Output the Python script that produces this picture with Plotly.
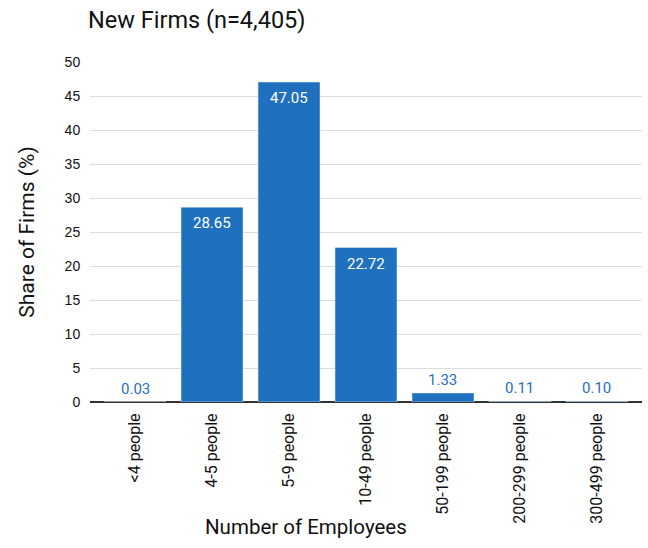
import plotly.graph_objects as go

categories = ["<4 people", "4-5 people", "5-9 people", "10-49 people",
              "50-199 people", "200-299 people", "300-499 people"]
shares = [0.03, 28.65, 47.05, 22.72, 1.33, 0.11, 0.10]

BLUE = "#1f70bf"
FONT = "Roboto, sans-serif"

inside = [v > 10 for v in shares]
fig = go.Figure(go.Bar(
    x=categories, y=shares,
    marker_color=BLUE,
    hoverinfo="x+y",
))

for c, v, ins in zip(categories, shares, inside):
    fig.add_annotation(
        x=c, y=v, text=f"{v:.2f}", showarrow=False,
        yanchor="middle", yshift=-16 if ins else 13,
        font=dict(family=FONT, size=15, color="white" if ins else BLUE),
    )

fig.add_annotation(
    x=(306 - 90) / 552, xref="paper", y=-(527 - 402) / 340, yref="paper",
    text="Number of Employees", showarrow=False,
    xanchor="center", yanchor="middle",
    font=dict(family=FONT, size=20.5, color="#111"),
)

fig.update_layout(
    width=648, height=548,
    margin=dict(l=90, r=6, t=62, b=146),
    plot_bgcolor="white", paper_bgcolor="white",
    bargap=0.195,
    showlegend=False,
    title=dict(text="New Firms (n=4,405)", x=88/648, xanchor="left",
               y=1 - 20/548, yanchor="middle",
               font=dict(family=FONT, size=23.5, color="#111")),
)
fig.update_yaxes(
    range=[0, 50], dtick=5, showgrid=True, gridcolor="#dddddd", gridwidth=1.3,
    ticks="outside", ticklen=6, tickcolor="rgba(0,0,0,0)",
    tickfont=dict(family="Liberation Sans, Arial, sans-serif", size=14, color="#111"),
    zeroline=True, zerolinecolor="#333", zerolinewidth=1.5,
    layer="above traces",
    title=dict(text="Share of Firms (%)", standoff=24,
               font=dict(family=FONT, size=21, color="#111")),
)
fig.update_xaxes(
    range=[-0.585, 6.585],
    tickangle=-90, showline=False,
    ticks="outside", ticklen=4, tickcolor="rgba(0,0,0,0)",
    tickfont=dict(family=FONT, size=16, color="#111"),
)

fig.write_html("out.html")
